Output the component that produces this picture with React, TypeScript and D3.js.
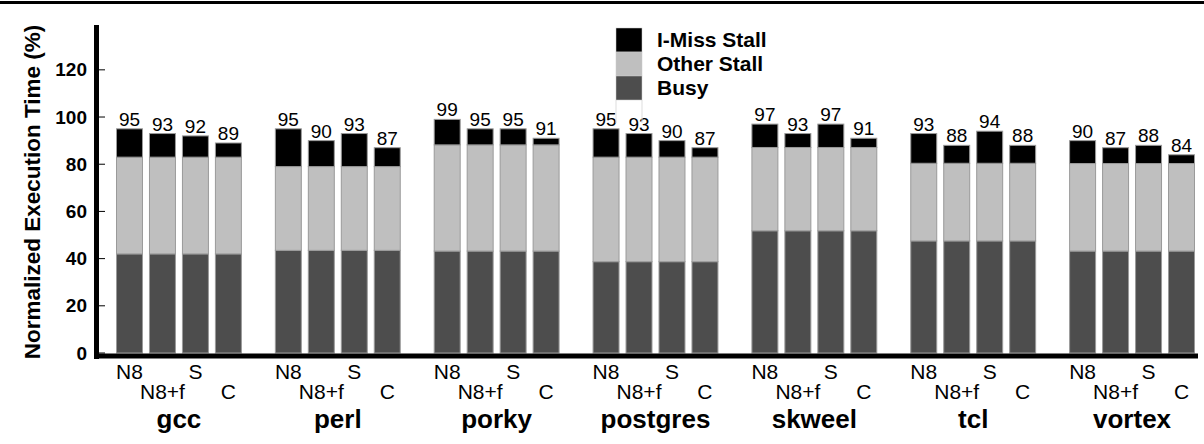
import * as d3 from "d3";
import { useEffect, useRef } from "react";

const benchmarks = ["gcc", "perl", "porky", "postgres", "skweel", "tcl", "vortex"];
const configs = ["N8", "N8+f", "S", "C"];
// per benchmark (same for all configs)
const busy = [42, 43.5, 43.2, 38.7, 51.8, 47.5, 43.2];
const otherTop = [83, 79, 88.2, 83, 87.1, 80.4, 80.3];
// total height per benchmark x config
const totals = [
    [95, 93, 92, 89],
    [95, 90, 93, 87],
    [99, 95, 95, 91],
    [95, 93, 90, 87],
    [97, 93, 97, 91],
    [93, 88, 94, 88],
    [90, 87, 88, 84],
];
const yTicks = [0, 20, 40, 60, 80, 100, 120];
const legendItems = ["I-Miss Stall", "Other Stall", "Busy"];
const colors = { imiss: "#000000", other: "#bfbfbf", busy: "#4d4d4d" };

const font = "'Liberation Sans', Arial, Helvetica, sans-serif";

const App = () => {
    const svgRef = useRef<SVGSVGElement>(null);

    useEffect(() => {
        const svg = d3.select(svgRef.current);
        const width = 1204;
        svg.selectAll("*").remove();

        const y = d3.scaleLinear().domain([0, 139]).range([353, 25]);
        const x0 = d3.scaleBand().domain(benchmarks).range([116, 1195]).paddingInner(0.2075).paddingOuter(0);
        const x1 = d3.scaleBand().domain(configs).range([0, x0.bandwidth()]).paddingInner(0.1818).paddingOuter(0);

        // top rule
        svg.append("line")
            .attr("x1", 0).attr("x2", width)
            .attr("y1", 2.5).attr("y2", 2.5)
            .attr("stroke", "#000").attr("stroke-width", 3);

        const groups = svg.append("g")
            .selectAll("g")
            .data(benchmarks)
            .join("g")
            .attr("transform", d => `translate(${x0(d)},0)`);

        groups.each(function(b, bi) {
            const g = d3.select(this);
            configs.forEach((c, ci) => {
                const bx = x1(c)!;
                const bw = x1.bandwidth();
                const segs = [
                    { lo: 0, hi: busy[bi], fill: colors.busy },
                    { lo: busy[bi], hi: otherTop[bi], fill: colors.other },
                    { lo: otherTop[bi], hi: totals[bi][ci], fill: colors.imiss },
                ];
                segs.forEach(s => {
                    g.append("rect")
                        .attr("x", bx + 0.5)
                        .attr("y", y(s.hi))
                        .attr("width", bw - 1)
                        .attr("height", y(s.lo) - y(s.hi))
                        .attr("fill", s.fill)
                        .attr("stroke", "#9a9a9a")
                        .attr("stroke-width", 1);
                });
                g.append("text")
                    .attr("x", bx + bw / 2)
                    .attr("y", y(totals[bi][ci]) - 3)
                    .attr("text-anchor", "middle")
                    .attr("font-family", font)
                    .attr("font-size", 19)
                    .text(totals[bi][ci]);
                g.append("text")
                    .attr("x", bx + bw / 2)
                    .attr("y", ci % 2 === 0 ? 379 : 399)
                    .attr("text-anchor", "middle")
                    .attr("font-family", font)
                    .attr("font-size", 21)
                    .text(c);
            });
            g.append("text")
                .attr("x", x0.bandwidth() / 2)
                .attr("y", 428)
                .attr("text-anchor", "middle")
                .attr("font-family", font)
                .attr("font-weight", "bold")
                .attr("font-size", 26)
                .text(b);
        });

        // y axis
        const yAxis = svg.append("g");
        yAxis.selectAll("line.tick")
            .data(yTicks)
            .join("line")
            .attr("class", "tick")
            .attr("x1", 99).attr("x2", 105)
            .attr("y1", d => y(d)).attr("y2", d => y(d))
            .attr("stroke", "#000").attr("stroke-width", 1);
        yAxis.selectAll("text")
            .data(yTicks)
            .join("text")
            .attr("x", 87)
            .attr("y", d => y(d) + 6.5)
            .attr("text-anchor", "end")
            .attr("font-family", font)
            .attr("font-weight", "bold")
            .attr("font-size", 19)
            .text(d => d);

        svg.append("line")
            .attr("x1", 96.5).attr("x2", 96.5)
            .attr("y1", y(139)).attr("y2", 359)
            .attr("stroke", "#000").attr("stroke-width", 5);
        svg.append("line")
            .attr("x1", 94).attr("x2", 1198)
            .attr("y1", 356).attr("y2", 356)
            .attr("stroke", "#000").attr("stroke-width", 5);

        svg.append("text")
            .attr("transform", `translate(40,192) rotate(-90)`)
            .attr("text-anchor", "middle")
            .attr("font-family", font)
            .attr("font-weight", "bold")
            .attr("font-size", 22.5)
            .text("Normalized Execution Time (%)");

        // legend
        const legend = svg.append("g").attr("transform", "translate(616,28)");
        const legendFills = [colors.imiss, colors.other, colors.busy];
        legend.append("line").attr("x1", 0).attr("x2", 0).attr("y1", 72).attr("y2", 95).attr("stroke", "#ddd");
        legend.append("line").attr("x1", 26).attr("x2", 26).attr("y1", 72).attr("y2", 95).attr("stroke", "#ddd");
        legendItems.forEach((name, i) => {
            legend.append("rect")
                .attr("x", 0).attr("y", i * 24)
                .attr("width", 26).attr("height", 24)
                .attr("fill", legendFills[i])
                .attr("stroke", "#ccc").attr("stroke-width", 0.5);
            legend.append("text")
                .attr("x", 41)
                .attr("y", i * 24 + 18.5)
                .attr("font-family", font)
                .attr("font-weight", "bold")
                .attr("font-size", 21)
                .text(name);
        });
    }, []);

    return (
        <svg
            ref={svgRef}
            width={1204}
            height={444}
            style={{ position: "absolute", left: 0, top: 0, background: "#fff" }}
        />
    );
};

export default App;
